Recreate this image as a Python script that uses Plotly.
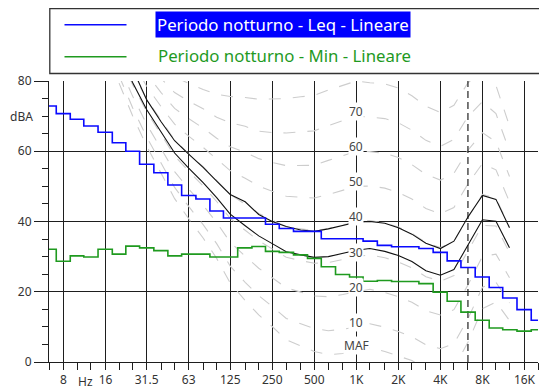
import math
import plotly.graph_objects as go

# ---------------- data ----------------
band_hz = [6.3, 8, 10, 12.5, 16, 20, 25, 31.5, 40, 50, 63, 80, 100, 125, 160, 200,
           250, 315, 400, 500, 630, 800, 1000, 1250, 1600, 2000, 2500, 3150, 4000,
           5000, 6300, 8000, 10000, 12500, 16000, 20000]
leq_db = [72.9, 70.7, 69.1, 67.2, 65.4, 62.4, 60.0, 56.3, 53.9, 50.4, 47.4, 46.4, 43.0,
          41.0, 41.0, 41.0, 39.2, 38.0, 37.2, 37.2, 35.1, 35.1, 35.1, 34.4, 33.2, 32.8,
          32.8, 32.3, 31.2, 28.8, 26.9, 24.2, 21.2, 18.2, 14.9, 11.9]
min_db = [32.1, 28.7, 30.2, 29.9, 32.1, 30.7, 33.0, 32.5, 31.7, 30.2, 30.7, 30.7, 29.9,
          29.9, 32.5, 32.9, 31.5, 31.2, 30.5, 29.5, 27.1, 24.9, 24.2, 23.0, 23.2, 22.9,
          22.9, 22.3, 19.9, 17.3, 14.2, 11.9, 9.7, 9.2, 8.8, 9.2]

curve_hz = [20, 25, 31.5, 40, 50, 63, 80, 100, 125, 160, 200, 250, 315, 400, 500, 630,
            800, 1000, 1250, 1600, 2000, 2500, 3150, 4000, 5000, 6300, 8000, 10000, 12500]
loud_leq_db = [92.0, 83.7, 74.7, 68.4, 63.0, 59.2, 55.4, 51.5, 47.7, 45.6, 42.0, 40.0, 38.6,
               37.6, 37.2, 37.9, 38.9, 39.8, 40.0, 39.5, 38.2, 36.4, 33.8, 32.3, 34.4, 41.3,
               47.4, 46.3, 38.2]
loud_min_db = [88.0, 79.6, 71.9, 65.4, 59.5, 55.2, 51.1, 46.8, 42.1, 38.8, 35.9, 33.7, 31.4,
               30.5, 29.8, 30.0, 30.9, 31.8, 32.3, 31.5, 30.3, 28.6, 26.0, 24.7, 26.3, 33.2,
               40.5, 40.1, 32.5]

maf_db = [79.4, 70.1, 61.5, 53.9, 46.5, 40.8, 35.3, 29.5, 22.5, 17.5, 13.4, 10.1, 6.3, 4.6,
          3.0, 2.1, 2.4, 3.0, 4.1, 3.0, 1.8, 0.4, -1.9, -3.0, -1.6, 5.6, 15.2, 17.1, 11.8]
phon10_db = [81.5, 72.4, 64.1, 56.7, 49.7, 44.3, 39.1, 33.7, 27.3, 22.7, 18.9, 15.8, 12.4,
             10.9, 9.5, 8.9, 9.3, 10.0, 10.9, 9.9, 8.7, 7.2, 4.9, 3.8, 5.2, 12.3, 21.3, 22.7, 16.8]
phon20_db = [84.5, 75.7, 67.7, 60.7, 54.2, 49.3, 44.6, 39.7, 34.1, 30.1, 26.7, 24.0, 21.1,
             19.9, 18.8, 18.6, 19.2, 20.0, 20.7, 19.8, 18.6, 17.0, 14.6, 13.4, 14.9, 21.9,
             30.1, 30.7, 24.0]
phon30_db = [87.5, 79.0, 71.3, 64.7, 58.7, 54.3, 50.1, 45.7, 40.9, 37.5, 34.5, 32.2, 29.8,
             28.9, 28.1, 28.3, 29.1, 30.0, 30.5, 29.7, 28.5, 26.8, 24.3, 23.0, 24.6, 31.5,
             38.9, 38.7, 31.2]
phon40_db = [90.5, 82.3, 74.9, 68.7, 63.2, 59.3, 55.6, 51.7, 47.7, 44.9, 42.3, 40.4, 38.5,
             37.9, 37.4, 38.0, 39.0, 40.0, 40.3, 39.6, 38.4, 36.6, 34.0, 32.6, 34.3, 41.1,
             47.7, 46.7, 38.4]
phon50_db = [93.5, 85.6, 78.5, 72.7, 67.7, 64.3, 61.1, 57.7, 54.5, 52.3, 50.1, 48.6, 47.2,
             46.9, 46.7, 47.7, 48.9, 50.0, 50.1, 49.5, 48.3, 46.4, 43.7, 42.2, 44.0, 50.7,
             56.5, 54.7, 45.6]
phon60_db = [96.5, 88.9, 82.1, 76.7, 72.2, 69.3, 66.6, 63.7, 61.3, 59.7, 57.9, 56.8, 55.9,
             55.9, 56.0, 57.4, 58.8, 60.0, 59.9, 59.4, 58.2, 56.2, 53.4, 51.8, 53.7, 60.3,
             65.3, 62.7, 52.8]
phon70_db = [99.5, 92.2, 85.7, 80.7, 76.7, 74.3, 72.1, 69.7, 68.1, 67.1, 65.7, 65.3, 65.2,
             65.5, 65.8, 67.3, 68.8, 70.0, 69.7, 69.3, 68.1, 66.0, 63.1, 61.4, 63.4, 69.9,
             74.1, 70.7, 60.0]
phon80_db = [102.5, 95.5, 89.3, 84.7, 81.2, 79.3, 77.6, 76.2, 75.6, 75.3, 74.8, 74.8, 75.0,
             75.5, 75.9, 77.4, 78.8, 80.0, 79.5, 79.2, 78.0, 75.8, 72.8, 71.0, 73.1, 79.5,
             82.9, 78.7, 67.2]

contour_labels = ["MAF", "10", "20", "30", "40", "50", "60", "70"]
contour_label_db = [4.7, 11.3, 21.3, 31.3, 41.3, 51.3, 61.3, 71.4]
contour_label_hz = 1000

marker_hz = 6300

octave_tick_hz = [8, 16, 31.5, 63, 125, 250, 500, 1000, 2000, 4000, 8000, 16000]
octave_tick_text = ["8", "16", "31.5", "63", "125", "250", "500", "1K", "2K", "4K", "8K", "16K"]
unit_label_hz = 11.5
y_tick_db = [0, 20, 40, 60, 80]

legend_names = ["Periodo notturno - Leq - Lineare", "Periodo notturno - Min - Lineare"]

# ---------------- layout geometry ----------------
W, H = 539, 390
ML, MR, MT, MB = 49, 1, 81, 28
PW, PH = W - ML - MR, H - MT - MB
X_MIN_HZ, X_MAX_HZ = 6.3, 20000
LX0, LX1 = math.log10(X_MIN_HZ), math.log10(X_MAX_HZ)


def xpx(px):
    return (px - ML) / PW


def ypx(py):
    return (H - MB - py) / PH


def xhz(f):
    return (math.log10(f) - LX0) / (LX1 - LX0)


BLUE = "#0a0aff"
GREEN = "#1f9a1f"
GRID = "#1e1e1e"
TXT = "#333333"
FONT = "Noto Sans"

fig = go.Figure()

contours = [maf_db, phon10_db, phon20_db, phon30_db, phon40_db, phon50_db,
            phon60_db, phon70_db, phon80_db]
for c in contours:
    fig.add_trace(go.Scatter(x=curve_hz, y=c, mode="lines",
                             line=dict(color="#cdcdcd", width=1.1, dash="12px,12px"),
                             hoverinfo="skip", showlegend=False))

fig.add_trace(go.Scatter(x=[marker_hz, marker_hz], y=[0, 80], mode="lines",
                         line=dict(color="#222222", width=1.2, dash="7px,4px"),
                         hoverinfo="skip", showlegend=False))

for c in (loud_leq_db, loud_min_db):
    fig.add_trace(go.Scatter(x=curve_hz, y=c, mode="lines",
                             line=dict(color="#111111", width=1.1),
                             hoverinfo="skip", showlegend=False))

fig.add_trace(go.Scatter(x=band_hz, y=min_db, mode="lines", line_shape="hvh",
                         line=dict(color=GREEN, width=1.6), name=legend_names[1],
                         showlegend=False))
fig.add_trace(go.Scatter(x=band_hz, y=leq_db, mode="lines", line_shape="hvh",
                         line=dict(color=BLUE, width=1.6), name=legend_names[0],
                         showlegend=False))

fig.update_xaxes(type="log", range=[LX0, LX1],
                 tickmode="array", tickvals=octave_tick_hz, ticktext=octave_tick_text,
                 ticks="outside", ticklen=7, tickcolor=GRID, tickwidth=1,
                 showgrid=True, gridcolor=GRID, gridwidth=1,
                 showline=True, linecolor=GRID, linewidth=1,
                 zeroline=False,
                 tickfont=dict(family=FONT, size=12, color=TXT),
                 minor=dict(tickmode="array", tickvals=band_hz, ticks="outside",
                            ticklen=7, tickcolor=GRID, tickwidth=1, showgrid=False))
fig.update_yaxes(range=[0, 80], tickmode="array", tickvals=y_tick_db,
                 ticks="outside", ticklen=14, tickcolor=GRID, tickwidth=1,
                 showgrid=True, gridcolor=GRID, gridwidth=1,
                 showline=True, linecolor=GRID, linewidth=1, zeroline=False,
                 tickfont=dict(family=FONT, size=12, color=TXT),
                 minor=dict(dtick=5, ticks="outside", ticklen=6, tickcolor=GRID,
                            tickwidth=1, showgrid=False))

annotations = []
for lab, lev in zip(contour_labels, contour_label_db):
    annotations.append(dict(x=xhz(contour_label_hz), y=lev, xref="paper", yref="y",
                            text=lab, showarrow=False, bgcolor="white", borderpad=0,
                            xanchor="center", yanchor="middle",
                            font=dict(family=FONT, size=12, color="#454545")))
annotations.append(dict(x=xhz(unit_label_hz), y=ypx(381), xref="paper", yref="paper",
                        text="Hz", xanchor="center", yanchor="middle", showarrow=False,
                        font=dict(family=FONT, size=12, color=TXT)))
annotations.append(dict(x=xpx(35), y=70, xref="paper", yref="y", text="dBA",
                        xanchor="right", yanchor="middle", showarrow=False,
                        font=dict(family=FONT, size=12, color=TXT)))
annotations.append(dict(x=xpx(155), y=ypx(24.3), xref="paper", yref="paper",
                        text=legend_names[0], xanchor="left", yanchor="middle",
                        showarrow=False, bgcolor="#0000ff", borderpad=1,
                        font=dict(family=FONT, size=16.8, color="white")))
annotations.append(dict(x=xpx(156), y=ypx(55.5), xref="paper", yref="paper",
                        text=legend_names[1], xanchor="left", yanchor="middle",
                        showarrow=False, font=dict(family=FONT, size=16.8, color=GREEN)))

shapes = [
    dict(type="rect", xref="paper", yref="paper", x0=xpx(49.8), x1=xpx(600),
         y0=ypx(73.5), y1=ypx(8.6), line=dict(color="#333333", width=1.3),
         fillcolor="white", layer="above"),
    dict(type="line", xref="paper", yref="paper", x0=xpx(64.5), x1=xpx(126.5),
         y0=ypx(24.7), y1=ypx(24.7), line=dict(color=BLUE, width=1.5)),
    dict(type="line", xref="paper", yref="paper", x0=xpx(64.5), x1=xpx(126.5),
         y0=ypx(56.7), y1=ypx(56.7), line=dict(color=GREEN, width=1.5)),
]

fig.update_layout(width=W, height=H, margin=dict(l=ML, r=MR, t=MT, b=MB),
                  plot_bgcolor="white", paper_bgcolor="white",
                  showlegend=False, annotations=annotations, shapes=shapes,
                  font=dict(family=FONT, size=12, color=TXT))

fig.write_html("out.html")
